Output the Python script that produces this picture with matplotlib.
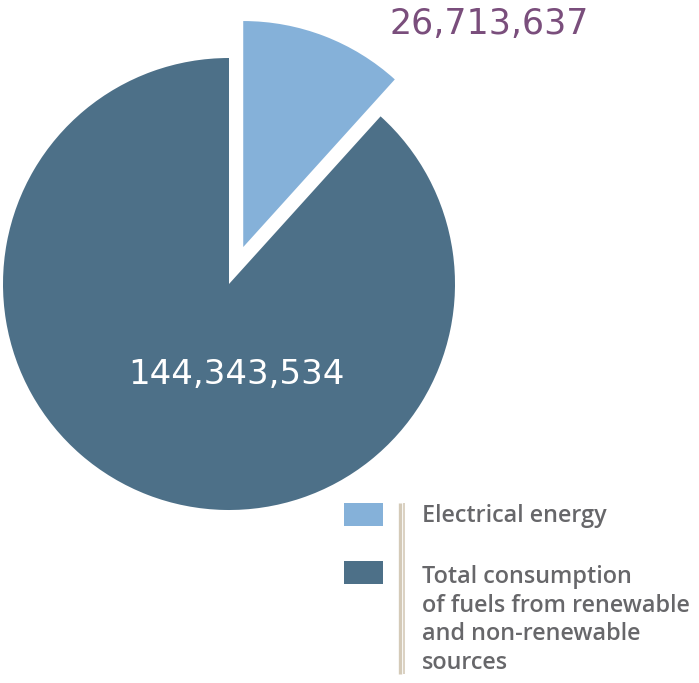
import matplotlib.pyplot as plt
from matplotlib.patches import Rectangle

# Values shown on the chart
labels = ["Electrical energy",
          "Total consumption\nof fuels from renewable\nand non-renewable\nsources"]
values = [26713637, 144343534]
# Angular shares as drawn in the picture (percent of the circle)
shares = [11.7, 88.3]
colors = ["#85B1D9", "#4D7088"]

W, H = 699, 683
fig = plt.figure(figsize=(W / 100, H / 100), dpi=100)
ax = fig.add_axes([0, 0, 1, 1])
ax.set_aspect("equal")
ax.axis("off")

ax.pie(shares, colors=colors, center=(229, 399), radius=226,
       startangle=90, counterclock=False, explode=[39.6, 0],
       wedgeprops=dict(linewidth=0))
ax.set_xlim(0, W)
ax.set_ylim(0, H)

ax.text(390, 659, f"{values[0]:,}", color="#7A4E7C", fontsize=25,
        ha="left", va="center", family="DejaVu Sans")
ax.text(236, 309, f"{values[1]:,}", color="white", fontsize=24.5,
        ha="center", va="center", family="DejaVu Sans")

# legend
sq_y = [H - 526, H - 584]
for c, y in zip(colors, sq_y):
    ax.add_patch(Rectangle((344, y), 39, 23, color=c, lw=0))
ax.plot([399.5, 399.5], [H - 503, H - 674], color="#D4CAB8", lw=2.4,
        solid_capstyle="butt")
ax.plot([404, 404], [H - 503, H - 674], color="#D4CAB8", lw=1.2,
        solid_capstyle="butt")

txt_y = [H - 504, H - 565]
for lab, y in zip(labels, txt_y):
    ax.text(422, y, lab, color="#67676A", fontsize=16.8, family="Open Sans",
            fontweight="semibold", ha="left", va="top",
            linespacing=1.26)

fig.savefig("out.png", dpi=100)
